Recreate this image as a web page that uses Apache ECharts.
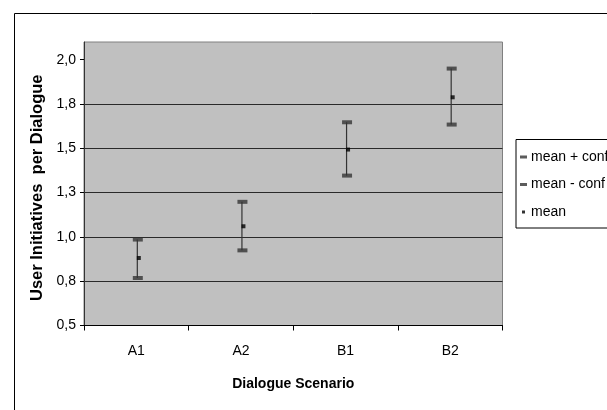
<!DOCTYPE html>
<html><head><meta charset="utf-8">
<script src="https://cdn.jsdelivr.net/npm/echarts@6/dist/echarts.min.js"></script>
<style>html,body{margin:0;padding:0;background:#fff}#c{width:607px;height:410px}</style>
</head><body><div id="c"></div>
<script>
const categories = ['A1', 'A2', 'B1', 'B2'];
const upperValues = [0.985, 1.198, 1.647, 1.950];
const meanValues = [0.881, 1.060, 1.493, 1.788];
const lowerValues = [0.768, 0.924, 1.346, 1.634];
const yTickValues = [0.5, 0.75, 1.0, 1.25, 1.5, 1.75, 2.0];
const yTickLabels = ['0,5', '0,8', '1,0', '1,3', '1,5', '1,8', '2,0'];
const seriesNames = ['mean + conf', 'mean - conf', 'mean'];

const font = "'Liberation Sans', Arial, sans-serif";
const chart = echarts.init(document.getElementById('c'), null, {renderer: 'canvas'});
chart.setOption({
  animation: false,
  backgroundColor: '#fff',
  graphic: [{type: 'rect', left: 12, top: 11, shape: {width: 700, height: 500}, style: {fill: 'none', stroke: '#000', lineWidth: 1}, z: 0}],
  grid: {left: 84, top: 42, right: 104.5, bottom: 84.5, show: true, backgroundColor: '#c0c0c0', borderColor: '#808080', borderWidth: 1},
  legend: {
    orient: 'vertical', left: 516, top: 139.5, padding: [9.5, 60, 8, 4], itemGap: 11.5,
    borderColor: '#000', borderWidth: 1, backgroundColor: '#fff',
    itemWidth: 7, itemHeight: 3,
    textStyle: {fontFamily: font, fontSize: 14, lineHeight: 16, color: '#000', padding: [0, 0, 0, -1]},
    data: [
      {name: seriesNames[0], icon: 'rect', itemStyle: {color: '#333'}},
      {name: seriesNames[1], icon: 'rect', itemStyle: {color: '#333'}},
      {name: seriesNames[2], icon: 'path://M0,0L0,0M7,3L7,3M2,0h3v3h-3z', itemStyle: {color: '#000'}}
    ]
  },
  xAxis: {
    type: 'category', data: categories, boundaryGap: true,
    name: 'Dialogue Scenario', nameLocation: 'middle', nameGap: 52,
    nameTextStyle: {fontFamily: font, fontSize: 14, fontWeight: 'bold', color: '#000'},
    axisLine: {lineStyle: {color: '#000'}},
    axisTick: {show: true, length: 5, inside: false, lineStyle: {color: '#000'}},
    axisLabel: {fontFamily: font, fontSize: 14, color: '#000', margin: 19},
    splitLine: {show: false}
  },
  yAxis: {
    type: 'value', min: 0.5, max: 2.1,
    name: 'User Initiatives  per Dialogue', nameLocation: 'middle', nameGap: 36, nameRotate: 90,
    nameTextStyle: {fontFamily: font, fontSize: 16.5, fontWeight: 'bold', color: '#000', padding: [0, 0, 0, -8]},
    axisLine: {show: true, lineStyle: {color: '#333'}},
    axisTick: {show: true, length: 4, customValues: yTickValues, lineStyle: {color: '#000'}},
    axisLabel: {fontFamily: font, fontSize: 14, color: '#000', margin: 8, customValues: yTickValues,
      formatter: v => { const i = yTickValues.findIndex(t => Math.abs(t - v) < 1e-6); return i >= 0 ? yTickLabels[i] : ''; }},
    splitLine: {show: true, showMaxLine: false, lineStyle: {color: '#2a2a2a', width: 1}}
  },
  series: [
    {
      type: 'custom', name: 'hl', silent: true, z: 2,
      data: categories.map((c, i) => [i, upperValues[i], lowerValues[i]]),
      renderItem: (params, api) => {
        const p1 = api.coord([api.value(0), api.value(1)]);
        const p2 = api.coord([api.value(0), api.value(2)]);
        return {type: 'line', shape: {x1: p1[0] + 1, y1: p1[1], x2: p2[0] + 1, y2: p2[1]}, style: {stroke: '#333', lineWidth: 1.2}};
      }
    },
    {type: 'scatter', name: seriesNames[0], data: upperValues, symbol: 'rect', symbolSize: [10, 4], symbolOffset: [1.5, 0], itemStyle: {color: '#333'}, z: 3},
    {type: 'scatter', name: seriesNames[1], data: lowerValues, symbol: 'rect', symbolSize: [10, 4], symbolOffset: [1.5, 0], itemStyle: {color: '#333'}, z: 3},
    {type: 'scatter', name: seriesNames[2], data: meanValues, symbol: 'rect', symbolSize: [4, 4], symbolOffset: [2.5, 0], itemStyle: {color: '#000'}, z: 4}
  ]
});
</script></body></html>
